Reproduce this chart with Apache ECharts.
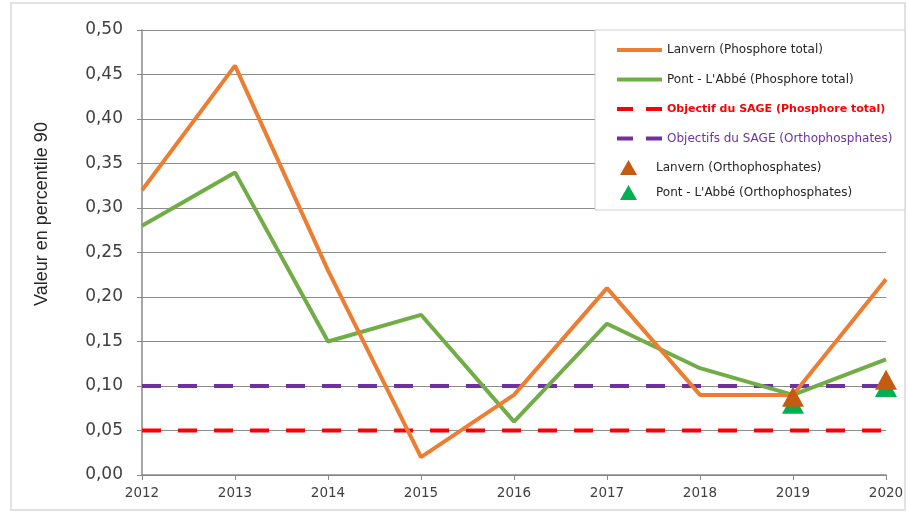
<!DOCTYPE html>
<html lang="fr">
<head>
<meta charset="utf-8" />
<title>Phosphore</title>
<script src="https://cdn.jsdelivr.net/npm/echarts@6/dist/echarts.min.js"></script>
<style>
  html, body { margin: 0; padding: 0; background: #fff; }
  #main { width: 908px; height: 517px; }
</style>
</head>
<body>
<div id="main"></div>
<script>
// data
var years = ['2012', '2013', '2014', '2015', '2016', '2017', '2018', '2019', '2020'];
var lanvernPT = [0.32, 0.46, 0.23, 0.02, 0.09, 0.21, 0.09, 0.09, 0.22];
var pontPT = [0.28, 0.34, 0.15, 0.18, 0.06, 0.17, 0.12, 0.09, 0.13];
var objPT = [0.05, 0.05, 0.05, 0.05, 0.05, 0.05, 0.05, 0.05, 0.05];
var objOrtho = [0.10, 0.10, 0.10, 0.10, 0.10, 0.10, 0.10, 0.10, 0.10];
var lanvernOrtho = [null, null, null, null, null, null, null, 0.088, 0.107];
var pontOrtho = [null, null, null, null, null, null, null, 0.08, 0.099];

var names = [
  'Lanvern (Phosphore total)',
  "Pont - L'Abbé (Phosphore total)",
  'Objectif du SAGE (Phosphore total)',
  'Objectifs du SAGE (Orthophosphates)',
  'Lanvern (Orthophosphates)',
  "Pont - L'Abbé (Orthophosphates)"
];

var font = "'DejaVu Sans', Verdana, sans-serif";
var dashIcon = 'path://M0,0h16v4h-16z M29,0h16v4h-16z';
var myChart = echarts.init(document.getElementById('main'));

var option = {
  animation: false,
  textStyle: { fontFamily: font },
  grid: { left: 142, right: 22, top: 30, bottom: 42 },
  graphic: [
    { type: 'rect', shape: { x: 11, y: 3, width: 894, height: 507 },
      style: { fill: 'none', stroke: '#d9d9d9', lineWidth: 1.5 }, z: -1 },
    { type: 'rect', shape: { x: 595, y: 30, width: 310, height: 180 },
      style: { fill: '#fff', stroke: '#d0d0d0', lineWidth: 1 }, z: 50 },
    { type: 'text', x: 42, y: 214, rotation: Math.PI / 2,
      style: { text: 'Valeur en percentile 90', fill: '#262626',
               font: "18px 'Liberation Sans', Arial, sans-serif",
               align: 'center', verticalAlign: 'middle' } }
  ],
  legend: [{
    orient: 'vertical',
    left: 612, top: 38,
    itemWidth: 45, itemHeight: 4,
    itemGap: 15.5,
    z: 60,
    textStyle: { fontSize: 12, color: '#262626', fontFamily: font, lineHeight: 14 },
    data: [
      { name: names[0], icon: 'rect' },
      { name: names[1], icon: 'rect' },
      { name: names[2], icon: dashIcon, textStyle: { color: '#ff0000', fontWeight: 'bold', fontSize: 11 } },
      { name: names[3], icon: dashIcon, textStyle: { color: '#7030a0' } }
    ]
  }, {
    orient: 'vertical',
    left: 615, top: 155,
    itemWidth: 17, itemHeight: 15,
    itemGap: 10,
    z: 60,
    textStyle: { fontSize: 12, color: '#262626', fontFamily: font, padding: [0, 0, 0, 14] },
    data: [
      { name: names[4], icon: 'triangle' },
      { name: names[5], icon: 'triangle' }
    ]
  }],
  xAxis: {
    type: 'category',
    data: years,
    boundaryGap: false,
    axisLine: { lineStyle: { color: '#888', width: 1.5 } },
    axisTick: { show: true, length: 5, lineStyle: { color: '#888' } },
    axisLabel: { color: '#404040', fontSize: 13.5, margin: 11 },
    splitLine: { show: false }
  },
  yAxis: {
    type: 'value',
    min: 0, max: 0.5, interval: 0.05,
    axisLine: { show: true, lineStyle: { color: '#888', width: 1.5 } },
    axisTick: { show: true, length: 5, lineStyle: { color: '#888' } },
    axisLabel: {
      color: '#404040', fontSize: 17, margin: 19,
      formatter: function (v) { return v.toFixed(2).replace('.', ','); }
    },
    splitLine: { lineStyle: { color: '#8c8c8c', width: 1.2 } }
  },
  series: [
    { name: names[0], type: 'line', data: lanvernPT, symbol: 'none',
      lineStyle: { color: '#ed7d31', width: 4 }, itemStyle: { color: '#ed7d31' }, z: 5 },
    { name: names[1], type: 'line', data: pontPT, symbol: 'none',
      lineStyle: { color: '#70ad47', width: 4 }, itemStyle: { color: '#70ad47' }, z: 4 },
    { name: names[2], type: 'line', data: objPT, symbol: 'none',
      lineStyle: { color: '#ff0000', width: 4, type: [19, 17] }, itemStyle: { color: '#ff0000' }, z: 3 },
    { name: names[3], type: 'line', data: objOrtho, symbol: 'none',
      lineStyle: { color: '#7030a0', width: 4, type: [19, 17] }, itemStyle: { color: '#7030a0' }, z: 3 },
    { name: names[5], type: 'scatter', data: pontOrtho, symbol: 'triangle', symbolSize: [22, 20],
      itemStyle: { color: '#00b050', opacity: 1 }, z: 6 },
    { name: names[4], type: 'scatter', data: lanvernOrtho, symbol: 'triangle', symbolSize: [22, 20],
      itemStyle: { color: '#c55a11', opacity: 1 }, z: 7 }
  ]
};

myChart.setOption(option);
</script>
</body>
</html>
